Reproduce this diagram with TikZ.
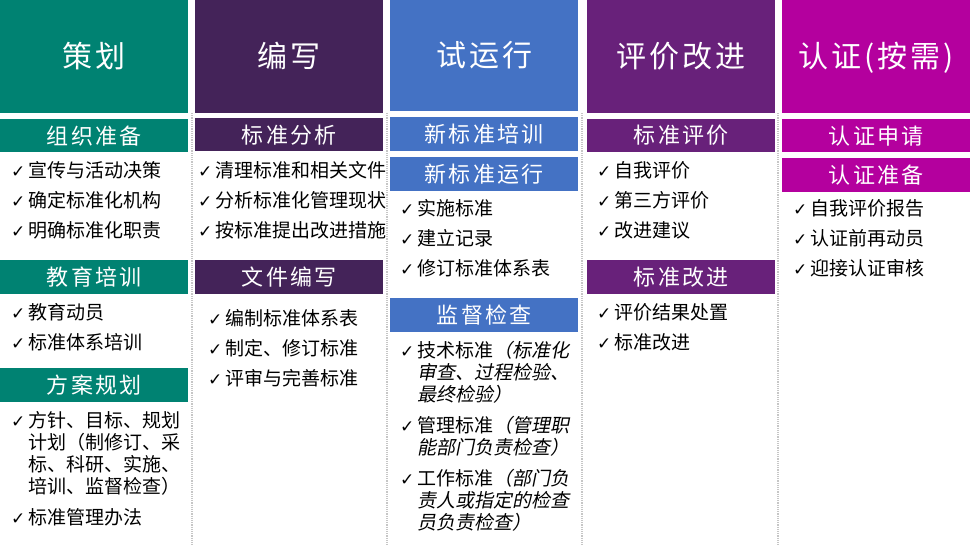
\documentclass[tikz,border=0pt]{standalone}
\usepackage{fontspec}
\usepackage{tikz}
\usepackage{xcolor}
\setmainfont{Noto Sans CJK SC}
\newfontfamily\cjkit[FakeSlant=0.2]{Noto Sans CJK SC}
\newfontfamily\cjkwide[LetterSpace=10]{Noto Sans CJK SC}
\newfontfamily\symfont{DejaVu Sans}

\definecolor{planc}{HTML}{008272}
\definecolor{writec}{HTML}{442359}
\definecolor{trialc}{HTML}{4472C4}
\definecolor{evalc}{HTML}{68217A}
\definecolor{certc}{HTML}{B4009E}

\newcommand{\ck}{\makebox[17pt][l]{\symfont\fontsize{17}{17}\selectfont ✓}}
\newcommand{\ind}{\hphantom{\ck}}

\begin{document}
\begin{tikzpicture}[x=1pt, y=-1pt,
    head/.style={fill=#1, text=white, anchor=north west, inner sep=0, minimum width=188pt, minimum height=113pt, font=\cjkwide\fontsize{30}{30}\selectfont},
    bar/.style={fill=#1, text=white, anchor=north west, inner sep=0, minimum width=188pt, minimum height=34pt, font=\cjkwide\fontsize{22}{22}\selectfont},
    item/.style={anchor=base west, inner sep=0, align=left, font=\fontsize{19}{22}\selectfont},
    sep/.style={gray!45, line width=1.2pt, densely dotted}]
    \useasboundingbox (0,0) rectangle (970,546);

    % column separators
    \draw[sep] (192,113) -- (192,546);
    \draw[sep] (387,113) -- (387,546);
    \draw[sep] (582,113) -- (582,546);
    \draw[sep] (778,113) -- (778,546);

    % headers
    \node[head=planc, text depth=4pt] (plan) at (0,0) {策划};
    \node[head=writec, text depth=4pt] (write) at (195,0) {编写};
    \node[head=trialc, text depth=4pt, minimum height=111pt] (trial) at (390,0) {试运行};
    \node[head=evalc, text depth=4pt] (eval) at (587,0) {评价改进};
    \node[head=certc, text depth=4pt] (cert) at (782,0) {认证(按需)};

    % planning (multi-line items: base is the last line)
    \node[bar=planc, minimum height=33pt] (org) at (0,119) {组织准备};
    \node[item] (org1) at (11,177) {\ck 宣传与活动决策};
    \node[item] (org2) at (11,207) {\ck 确定标准化机构};
    \node[item] (org3) at (11,237) {\ck 明确标准化职责};
    \node[bar=planc] (edu) at (0,260) {教育培训};
    \node[item] (edu1) at (11,319) {\ck 教育动员};
    \node[item] (edu2) at (11,349) {\ck 标准体系培训};
    \node[bar=planc] (prog) at (0,368) {方案规划};
    \node[item] (prog1) at (11,493) {\ck 方针、目标、规划\\\ind 计划（制修订、采\\\ind 标、科研、实施、\\\ind 培训、监督检查）};
    \node[item] (prog2) at (11,524) {\ck 标准管理办法};

    % writing
    \node[bar=writec, minimum height=33pt] (ana) at (195,118) {标准分析};
    \node[item] (ana1) at (198,177) {\ck 清理标准和相关文件};
    \node[item] (ana2) at (198,207) {\ck 分析标准化管理现状};
    \node[item] (ana3) at (198,237) {\ck 按标准提出改进措施};
    \node[bar=writec] (doc) at (195,260) {文件编写};
    \node[item] (doc1) at (208,325) {\ck 编制标准体系表};
    \node[item] (doc2) at (208,355) {\ck 制定、修订标准};
    \node[item] (doc3) at (208,385) {\ck 评审与完善标准};

    % trial run
    \node[bar=trialc] (train) at (390,117) {新标准培训};
    \node[bar=trialc] (run) at (390,157) {新标准运行};
    \node[item] (run1) at (400,215) {\ck 实施标准};
    \node[item] (run2) at (400,245) {\ck 建立记录};
    \node[item] (run3) at (400,275) {\ck 修订标准体系表};
    \node[bar=trialc] (sup) at (390,298) {监督检查};
    \node[item] (sup1) at (400,401) {\ck 技术标准{\cjkit （标准化}\\\ind{\cjkit 审查、过程检验、}\\\ind{\cjkit 最终检验）}};
    \node[item] (sup2) at (400,454) {\ck 管理标准{\cjkit （管理职}\\\ind{\cjkit 能部门负责检查）}};
    \node[item] (sup3) at (400,529) {\ck 工作标准{\cjkit （部门负}\\\ind{\cjkit 责人或指定的检查}\\\ind{\cjkit 员负责检查）}};

    % evaluation
    \node[bar=evalc, minimum height=33pt] (rate) at (587,119) {标准评价};
    \node[item] (rate1) at (597,177) {\ck 自我评价};
    \node[item] (rate2) at (597,207) {\ck 第三方评价};
    \node[item] (rate3) at (597,237) {\ck 改进建议};
    \node[bar=evalc] (impr) at (587,260) {标准改进};
    \node[item] (impr1) at (597,319) {\ck 评价结果处置};
    \node[item] (impr2) at (597,349) {\ck 标准改进};

    % certification
    \node[bar=certc, minimum height=33pt] (apply) at (782,119) {认证申请};
    \node[bar=certc] (prep) at (782,158) {认证准备};
    \node[item] (prep1) at (793,215) {\ck 自我评价报告};
    \node[item] (prep2) at (793,245) {\ck 认证前再动员};
    \node[item] (prep3) at (793,275) {\ck 迎接认证审核};
\end{tikzpicture}
\end{document}
